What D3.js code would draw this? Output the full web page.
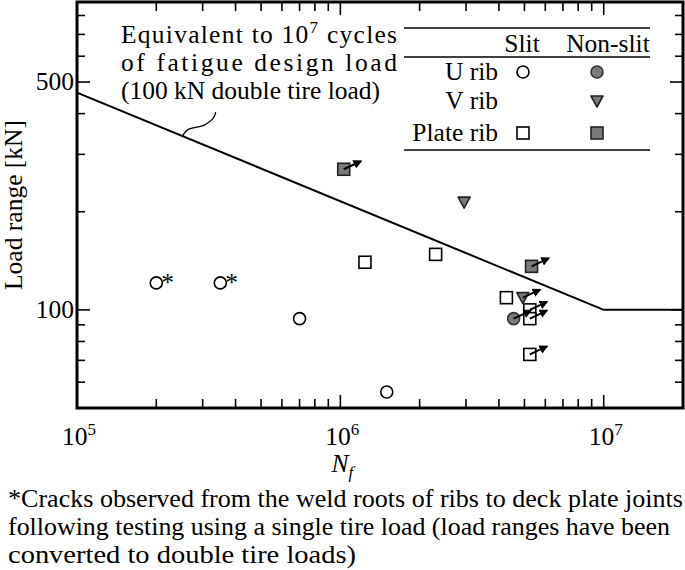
<!DOCTYPE html>
<html>
<head>
<meta charset="utf-8">
<script src="https://cdn.jsdelivr.net/npm/d3@7"></script>
<style>
  body { margin: 0; background: #fff; }
  svg { display: block; font-family: "Liberation Serif", "Times New Roman", serif; }
</style>
</head>
<body>
<svg id="chart" width="685" height="570"></svg>
<script>
// Design line: 10^7 cycles of fatigue design load (cube law down to 1e7, then flat)
var snN = [1e5, 1e7, 2e7];
var snL = [464, 100, 100];

// U rib, slit (open circles); star marks the single-tire tests
var uSlitN = [2.0e5, 3.5e5, 7.0e5, 1.5e6];
var uSlitL = [121, 121, 94, 56];
var uSlitStar = [true, true, false, false];

// U rib, non-slit (gray circles)
var uNonN = [4.55e6];
var uNonL = [94];
var uNonRun = [true];

// V rib, non-slit (gray triangles)
var vNonN = [2.95e6, 4.93e6];
var vNonL = [214, 109];
var vNonRun = [false, true];

// Plate rib, slit (open squares)
var pSlitN = [1.24e6, 2.30e6, 4.27e6, 5.24e6, 5.24e6, 5.24e6];
var pSlitL = [140, 148, 109, 100, 94, 73];
var pSlitRun = [false, false, false, true, true, true];

// Plate rib, non-slit (gray squares)
var pNonN = [1.03e6, 5.32e6];
var pNonL = [270, 136];
var pNonRun = [true, true];

var xMajor = [1e5, 1e6, 1e7];
var xMinor = [2e5, 3e5, 4e5, 5e5, 6e5, 7e5, 8e5, 9e5, 2e6, 3e6, 4e6, 5e6, 6e6, 7e6, 8e6, 9e6];
var yMajor = [100, 500];
var yMinor = [60, 70, 80, 90, 200, 300, 400, 600, 700, 800];

var legendRows = ["U rib", "V rib", "Plate rib"];
var legendCols = ["Slit", "Non-slit"];

var noteLines = ["Equivalent to 10", "of fatigue design load", "(100 kN double tire load)"];
var footLines = [
  "*Cracks observed from the weld roots of ribs to deck plate joints",
  "following testing using a single tire load (load ranges have been",
  "converted to double tire loads)"
];
var footWidths = [675, 662, 348];

var GRAY = "#7a7a7a";
var FS = 25.5;
var SUP = 17;

var svg = d3.select("#chart");
var pL = 77, pR = 683, pT = 2, pB = 408;

var x = d3.scaleLog().domain([1e5, 2e7]).range([pL, pR]);
var y = d3.scaleLog().domain([50, 880]).range([pB, pT]);

// arrow head for run-outs
svg.append("defs").append("marker")
  .attr("id", "head")
  .attr("viewBox", "0 0 10 10")
  .attr("refX", 8).attr("refY", 5)
  .attr("markerWidth", 4.5).attr("markerHeight", 4.5)
  .attr("markerUnits", "strokeWidth")
  .attr("orient", "auto")
  .append("path").attr("d", "M0,0 L10,5 L0,10 Z").attr("fill", "#000");

// Ticks, all pointing inward on the four sides
var tk = svg.append("g").attr("stroke", "#000").attr("stroke-width", 1.6);
function xTicks(vals, len) {
  vals.forEach(function (v) {
    tk.append("line").attr("x1", x(v)).attr("x2", x(v)).attr("y1", pB).attr("y2", pB - len);
    tk.append("line").attr("x1", x(v)).attr("x2", x(v)).attr("y1", pT).attr("y2", pT + len);
  });
}
function yTicks(vals, len) {
  vals.forEach(function (v) {
    tk.append("line").attr("x1", pL).attr("x2", pL + len).attr("y1", y(v)).attr("y2", y(v));
    tk.append("line").attr("x1", pR).attr("x2", pR - len).attr("y1", y(v)).attr("y2", y(v));
  });
}
xTicks(xMajor, 13);
xTicks(xMinor, 9);
yTicks(yMajor, 13);
yTicks(yMinor, 8);

// frame
svg.append("rect")
  .attr("x", pL).attr("y", pT)
  .attr("width", pR - pL).attr("height", pB - pT)
  .attr("fill", "none").attr("stroke", "#000").attr("stroke-width", 3);

// x tick labels (powers of ten)
xMajor.forEach(function (v) {
  var t = svg.append("text")
    .attr("x", x(v) + 2).attr("y", 445)
    .attr("text-anchor", "middle")
    .attr("font-size", FS);
  t.append("tspan").text("10");
  t.append("tspan").attr("dy", -10).attr("font-size", SUP).text(Math.round(Math.log10(v)));
});

// y tick labels
yMajor.forEach(function (v) {
  svg.append("text")
    .attr("x", pL - 3).attr("y", y(v) + 8)
    .attr("text-anchor", "end")
    .attr("font-size", FS)
    .text(v);
});

// axis titles
var xt = svg.append("text")
  .attr("x", x(1e6) + 2).attr("y", 472)
  .attr("text-anchor", "middle")
  .attr("font-size", FS).attr("font-style", "italic");
xt.append("tspan").text("N");
xt.append("tspan").attr("dy", 6).attr("font-size", SUP).text("f");

svg.append("text")
  .attr("transform", "translate(22," + ((pT + pB) / 2) + ") rotate(-90)")
  .attr("text-anchor", "middle")
  .attr("font-size", FS)
  .text("Load range [kN]");

// design line
var line = d3.line()
  .x(function (d) { return x(d[0]); })
  .y(function (d) { return y(d[1]); });

svg.append("path")
  .datum(d3.zip(snN, snL))
  .attr("d", line)
  .attr("fill", "none").attr("stroke", "#000").attr("stroke-width", 2);

// annotation and its callout
var nx = 121;
var n1 = svg.append("text").attr("x", nx).attr("y", 43).attr("font-size", FS)
  .attr("textLength", 276).attr("lengthAdjust", "spacing");
n1.append("tspan").text(noteLines[0]);
n1.append("tspan").attr("dy", -10).attr("font-size", SUP).text("7");
n1.append("tspan").attr("dy", 10).text(" cycles");
svg.append("text").attr("x", nx).attr("y", 71).attr("font-size", FS)
  .attr("textLength", 276).attr("lengthAdjust", "spacing")
  .text(noteLines[1]);
svg.append("text").attr("x", nx).attr("y", 99).attr("font-size", FS)
  .attr("textLength", 259).attr("lengthAdjust", "spacingAndGlyphs")
  .text(noteLines[2]);

var cx0 = x(2.52e5), cy0 = y(464 * Math.pow(1e5 / 2.52e5, 1 / 3));
svg.append("path")
  .attr("d", "M" + cx0 + "," + cy0 +
    " C" + (cx0 + 5) + "," + (cy0 - 12) + " " + (cx0 + 16) + "," + (cy0 - 7) + " " + (cx0 + 23) + "," + (cy0 - 12) +
    " C" + (cx0 + 30) + "," + (cy0 - 16) + " " + (cx0 + 32) + "," + (cy0 - 19) + " " + (cx0 + 33) + "," + (cy0 - 24))
  .attr("fill", "none").attr("stroke", "#000").attr("stroke-width", 1.3);

// symbols
function circleSym(g, cx, cy, fill) {
  g.append("circle").attr("cx", cx).attr("cy", cy).attr("r", 6)
    .attr("fill", fill).attr("stroke", fill === "#fff" ? "#000" : "#333").attr("stroke-width", 1.6);
}
function squareSym(g, cx, cy, fill) {
  g.append("rect").attr("x", cx - 6).attr("y", cy - 6).attr("width", 12).attr("height", 12)
    .attr("fill", fill).attr("stroke", fill === "#fff" ? "#000" : "#222").attr("stroke-width", 1.6);
}
function triSym(g, cx, cy, fill) {
  g.append("path")
    .attr("d", "M" + (cx - 6) + "," + (cy - 5) + " L" + (cx + 6) + "," + (cy - 5) + " L" + cx + "," + (cy + 6) + " Z")
    .attr("fill", fill).attr("stroke", "#222").attr("stroke-width", 1.6).attr("stroke-linejoin", "round");
}
function runout(g, cx, cy) {
  g.append("line")
    .attr("x1", cx).attr("y1", cy).attr("x2", cx + 17).attr("y2", cy - 8)
    .attr("stroke", "#000").attr("stroke-width", 2)
    .attr("marker-end", "url(#head)");
}

var pts = svg.append("g");
function series(N, L, sym, fill, run) {
  N.forEach(function (n, i) {
    var px = x(n), py = y(L[i]);
    sym(pts, px, py, fill);
    if (run && run[i]) runout(pts, px, py);
  });
}
series(uSlitN, uSlitL, circleSym, "#fff", null);
series(pSlitN, pSlitL, squareSym, "#fff", pSlitRun);
series(vNonN, vNonL, triSym, GRAY, vNonRun);
series(pNonN, pNonL, squareSym, GRAY, pNonRun);
series(uNonN, uNonL, circleSym, GRAY, uNonRun);

uSlitN.forEach(function (n, i) {
  if (!uSlitStar[i]) return;
  pts.append("text")
    .attr("x", x(n) + 5).attr("y", y(uSlitL[i]) + 8)
    .attr("font-size", FS)
    .text("*");
});

// legend table
var lg = svg.append("g");
[28, 57, 150].forEach(function (ly) {
  lg.append("line").attr("x1", 404).attr("x2", 650).attr("y1", ly).attr("y2", ly)
    .attr("stroke", "#000").attr("stroke-width", 1.6);
});
var colX = [523, 597];
legendCols.forEach(function (c, i) {
  lg.append("text").attr("x", i === 0 ? 522 : 608).attr("y", 52)
    .attr("text-anchor", "middle").attr("font-size", FS).text(c);
});
var rowY = [72, 101, 133];
legendRows.forEach(function (r, i) {
  lg.append("text").attr("x", 498).attr("y", rowY[i] + 8)
    .attr("text-anchor", "end").attr("font-size", FS).text(r);
});
circleSym(lg, colX[0], rowY[0], "#fff");
circleSym(lg, colX[1], rowY[0], GRAY);
triSym(lg, colX[1], rowY[1], GRAY);
squareSym(lg, colX[0], rowY[2], "#fff");
squareSym(lg, colX[1], rowY[2], GRAY);

// footnote
footLines.forEach(function (t, i) {
  svg.append("text").attr("x", 8).attr("y", 507 + i * 28)
    .attr("font-size", FS)
    .attr("textLength", footWidths[i]).attr("lengthAdjust", "spacingAndGlyphs")
    .text(t);
});
</script>
</body>
</html>
